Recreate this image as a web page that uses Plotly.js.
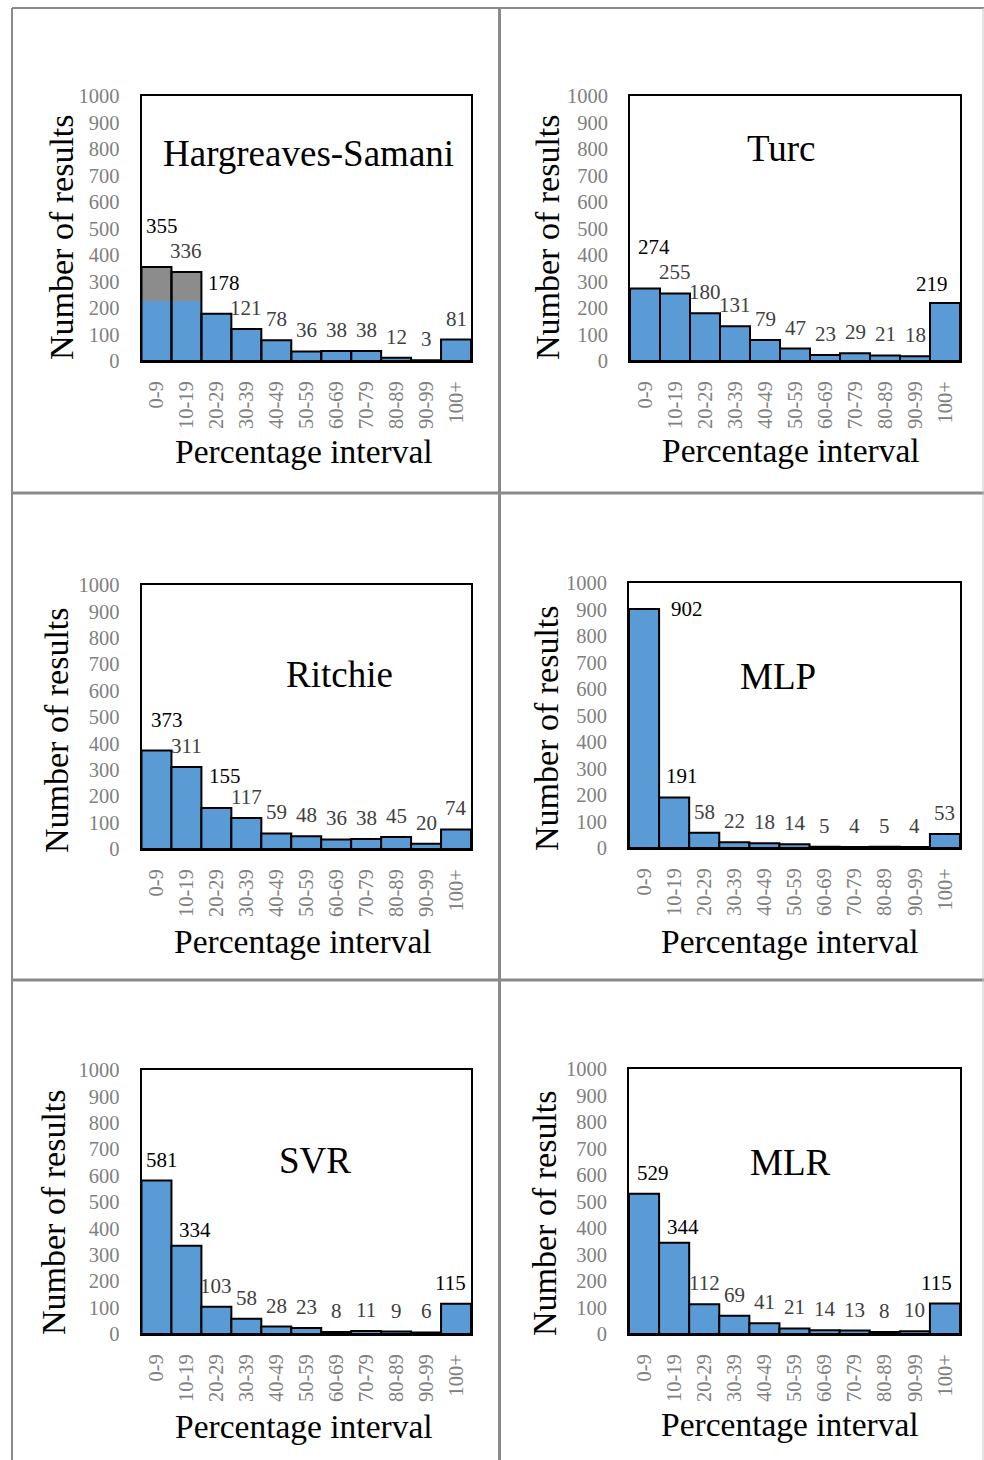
<!DOCTYPE html>
<html><head><meta charset="utf-8">
<script src="https://cdn.plot.ly/plotly-3.0.1.min.js"></script>
<style>html,body{margin:0;padding:0;background:#fff}#chart{width:984px;height:1460px}</style>
</head><body><div id="chart"></div>
<script>
// ---------- data ----------
const categories = ['0-9','10-19','20-29','30-39','40-49','50-59','60-69','70-79','80-89','90-99','100+'];
const hsValues      = [355,336,178,121,78,36,38,38,12,3,81];
const hsBlueBase    = [225,225];   // blue part of the first two (partly grey) bars
const turcValues    = [274,255,180,131,79,47,23,29,21,18,219];
const ritchieValues = [373,311,155,117,59,48,36,38,45,20,74];
const mlpValues     = [902,191,58,22,18,14,5,4,5,4,53];
const svrValues     = [581,334,103,58,28,23,8,11,9,6,115];
const mlrValues     = [529,344,112,69,41,21,14,13,8,10,115];
const panelTitles   = ['Hargreaves-Samani','Turc','Ritchie','MLP','SVR','MLR'];
const yTickValues   = [0,100,200,300,400,500,600,700,800,900,1000];
const yAxisTitle    = 'Number of results';
const xAxisTitle    = 'Percentage interval';

const series = [hsValues, turcValues, ritchieValues, mlpValues, svrValues, mlrValues];

// ---------- layout geometry (pixels) ----------
const W = 984, H = 1460;
const FONT = 'Liberation Serif, Times New Roman, serif';
const BLUE = '#5b9bd5', GREY = '#8c8c8c';
const geom = [
  {x0:141.5,x1:471,y0:96, y1:361, t:[308,153], yt:[61,237], xt:[304,452]},
  {x0:630,  x1:960,y0:96, y1:361, t:[781,148], yt:[547,237], xt:[791,451]},
  {x0:141.5,x1:471,y0:585,y1:849, t:[339,675], yt:[56,730], xt:[303,941]},
  {x0:629,  x1:960,y0:583,y1:848, t:[778,676], yt:[547,728], xt:[790,942]},
  {x0:141.5,x1:471,y0:1070,y1:1334,t:[315,1160],yt:[53,1212],xt:[304,1426]},
  {x0:629,  x1:960,y0:1069,y1:1334,t:[790,1162],yt:[544,1213],xt:[790,1424]}
];
// label nudges in pixels [dx, dy(up), color]
const labelNudge = [
  {0:[6,20,'#000'], 2:[8,10,'#000']},
  {0:[9,20,'#000'], 10:[-13,-2,'#000']},
  {0:[11,10,'#000'], 2:[9,11,'#000']},
  {0:[43,-21,'#000'], 1:[8,0,'#000']},
  {0:[6,0,'#000'], 1:[9,-5,'#000'], 10:[-6,0,'#000']},
  {0:[9,0,'#000'], 1:[9,-5,'#000'], 10:[-8,0,'#000']}
];
const px = x => x / W;
const py = y => 1 - y / H;

const traces = [];
const layout = {
  width: W, height: H,
  margin: {l:0, r:0, t:0, b:0},
  paper_bgcolor: '#fff', plot_bgcolor: '#fff',
  showlegend: false,
  barmode: 'overlay', bargap: 0,
  font: {family: FONT, color: '#000'},
  annotations: [], shapes: []
};

series.forEach((vals, i) => {
  const n = i === 0 ? '' : String(i + 1);
  const g = geom[i];
  const xa = 'x' + n, ya = 'y' + n;
  layout['xaxis' + n] = {
    domain: [px(g.x0), px(g.x1)], anchor: ya,
    type: 'category', range: [-0.5, categories.length - 0.5],
    tickangle: -90, ticks: '', ticklabelstandoff: 10,
    tickfont: {family: FONT, size: 20.5, color: '#808080'},
    showline: true, mirror: true, linecolor: '#000', linewidth: 2,
    showgrid: false, zeroline: false, fixedrange: true
  };
  layout['yaxis' + n] = {
    domain: [py(g.y1), py(g.y0)], anchor: xa,
    range: [0, 1000], tickvals: yTickValues, ticks: '', ticklabelstandoff: 16,
    tickfont: {family: FONT, size: 20.5, color: '#808080'},
    showline: true, mirror: true, linecolor: '#000', linewidth: 2,
    showgrid: false, zeroline: false, fixedrange: true
  };
  if (i === 0) {
    traces.push({type:'bar', x: categories, y: vals, xaxis: xa, yaxis: ya, width: 1,
      marker: {color: vals.map((v, k) => k < hsBlueBase.length ? GREY : BLUE), line: {width: 0}},
      hoverinfo: 'skip'});
    traces.push({type:'bar', x: categories.slice(0, hsBlueBase.length), y: hsBlueBase, xaxis: xa, yaxis: ya, width: 1,
      marker: {color: BLUE, line: {width: 0}}, hoverinfo: 'skip'});
    traces.push({type:'bar', x: categories, y: vals, xaxis: xa, yaxis: ya, width: 1,
      marker: {color: 'rgba(0,0,0,0)', line: {color: '#000', width: 2}}, hoverinfo: 'skip'});
  } else {
    traces.push({type:'bar', x: categories, y: vals, xaxis: xa, yaxis: ya, width: 1,
      marker: {color: BLUE, line: {color: '#000', width: 2}}, hoverinfo: 'skip'});
  }
  // value labels
  vals.forEach((v, k) => {
    const nd = labelNudge[i][k] || [0, 0, '#404040'];
    layout.annotations.push({
      x: categories[k], y: v, xref: xa, yref: ya, text: String(v), showarrow: false,
      xanchor: 'center', yanchor: 'bottom', xshift: nd[0], yshift: 7 + nd[1],
      font: {family: FONT, size: 21, color: nd[2]}
    });
  });
  // panel title
  layout.annotations.push({x: px(g.t[0]), y: py(g.t[1]), xref:'paper', yref:'paper',
    text: panelTitles[i], showarrow:false, xanchor:'center', yanchor:'middle',
    font:{family: FONT, size: 37, color:'#000'}});
  // axis titles
  layout.annotations.push({x: px(g.yt[0]), y: py(g.yt[1]), xref:'paper', yref:'paper',
    text: yAxisTitle, textangle: -90, showarrow:false, xanchor:'center', yanchor:'middle',
    font:{family: FONT, size: 34, color:'#000'}});
  layout.annotations.push({x: px(g.xt[0]), y: py(g.xt[1]), xref:'paper', yref:'paper',
    text: xAxisTitle, showarrow:false, xanchor:'center', yanchor:'middle',
    font:{family: FONT, size: 33.5, color:'#000'}});
});

// cell frame lines
const frame = (x0, y0, x1, y1, w, c) => layout.shapes.push({type:'line', xref:'paper', yref:'paper',
  x0: px(x0), y0: py(y0), x1: px(x1), y1: py(y1), line:{color: c, width: w}});
frame(12, 8, 984, 8, 2, '#8a8a8a');
frame(12, 8, 12, 1460, 2, '#8a8a8a');
frame(499.5, 8, 499.5, 1460, 3, '#8a8a8a');
frame(12, 493, 984, 493, 3, '#8a8a8a');
frame(12, 980, 984, 980, 3, '#8a8a8a');
frame(983, 8, 983, 1460, 1, '#c8c8c8');

Plotly.newPlot('chart', traces, layout, {displayModeBar: false, staticPlot: true});
</script></body></html>
